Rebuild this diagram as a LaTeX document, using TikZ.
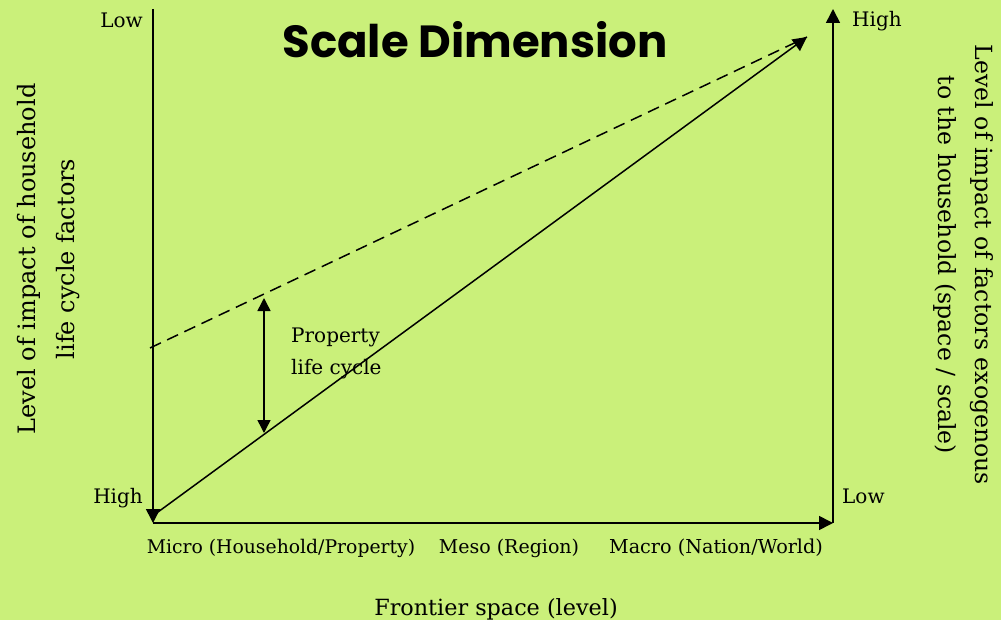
\documentclass[tikz,border=0pt]{standalone}
\usepackage{fontspec}
\setmainfont{DejaVu Serif}
\newfontfamily\titlefont{Poppins}
\usetikzlibrary{arrows.meta}
\definecolor{bgcol}{RGB}{202,240,122}
\tikzset{
  lbl/.style={inner sep=0pt, font=\fontsize{20}{24}\selectfont},
  axis/.style={line width=1.6pt},
  tip/.style={-{Triangle[length=14pt,width=14pt]}},
  diag/.style={line width=1.5pt},
}
\begin{document}
\begin{tikzpicture}[x=1pt,y=-1pt]
\fill[bgcol] (0,0) rectangle (1001,620);
\useasboundingbox (0,0) rectangle (1001,620);
% coordinates
\coordinate (TL) at (153,9);
\coordinate (O) at (153,523);
\coordinate (BR) at (833,523);
\coordinate (TR) at (833,9);
\coordinate (S) at (158,512);
\coordinate (E) at (807,37);
\coordinate (D) at (150,348);
\coordinate (P1) at (264,298);
\coordinate (P2) at (264,433);
% axes
\draw[axis,tip] (TL) -- (O);
\draw[axis,tip] (O) -- (BR);
\draw[axis,tip] (BR) -- (TR);
% diagonals
\draw[diag,tip] (S) -- (E);
\draw[diag,dash pattern=on 12pt off 7pt] (D) -- (E);
% double arrow
\draw[line width=1.5pt,{Triangle[length=13pt,width=13pt]}-{Triangle[length=13pt,width=13pt]}] (P1) -- (P2);
% title
\node[inner sep=0pt,anchor=base] (title) at (475,58) {\titlefont\bfseries\fontsize{45}{52}\selectfont Scale Dimension};
% end labels
\node[lbl,anchor=base east] (lowL) at (143,28) {Low};
\node[lbl,anchor=base east] (highL) at (143,503) {High};
\node[lbl,anchor=base west] (highR) at (852,27) {High};
\node[lbl,anchor=base west] (lowR) at (842,503) {Low};
% bottom labels
\node[lbl,anchor=base,font=\fontsize{18.8}{24}\selectfont] (micro) at (281,553) {Micro (Household/Property)};
\node[lbl,anchor=base,font=\fontsize{19}{24}\selectfont] (meso) at (509,553) {Meso (Region)};
\node[lbl,anchor=base,font=\fontsize{19.2}{24}\selectfont] (macro) at (716,553) {Macro (Nation/World)};
\node[lbl,anchor=base,font=\fontsize{22.3}{26}\selectfont] (frontier) at (496,615) {Frontier space (level)};
% property label
\node[lbl,anchor=north west,align=left,font=\fontsize{20}{32}\selectfont] (prop) at (291,328) {Property\\life cycle};
% side labels
\node[lbl,rotate=90,align=center,font=\fontsize{24}{39}\selectfont] (leftlab) at (49,259) {Level of impact of household\\life cycle factors};
\node[lbl,rotate=-90,align=center,font=\fontsize{23.6}{37}\selectfont] (rightlab) at (963,265) {Level of impact of factors exogenous\\to the household (space / scale)};
\end{tikzpicture}
\end{document}
